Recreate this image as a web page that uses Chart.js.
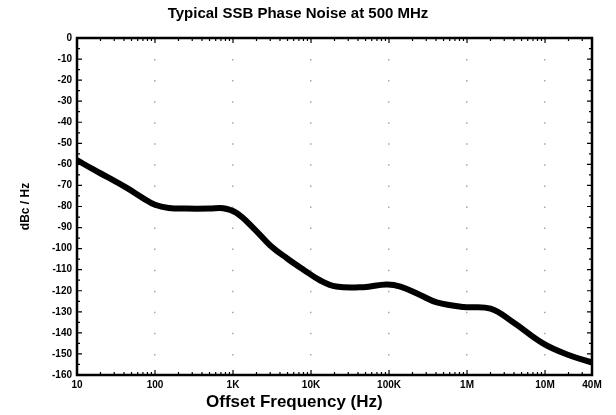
<!DOCTYPE html>
<html>
<head>
<meta charset="utf-8">
<title>Typical SSB Phase Noise at 500 MHz</title>
<script src="https://cdn.jsdelivr.net/npm/chart.js@4/dist/chart.umd.min.js"></script>
<style>
  html, body { margin: 0; padding: 0; background: #fff; }
  #wrap { width: 616px; height: 415px; }
</style>
</head>
<body>
<div id="wrap"><canvas id="chartCanvas" width="616" height="415"></canvas></div>
<script>
// offset frequency (Hz) and phase noise (dBc/Hz)
const freqs = [10, 16, 25, 44, 70, 100, 150, 250, 500, 750, 1100, 1800, 3000, 5000, 8000,
  13000, 21000, 47000, 93000, 140000, 250000, 410000, 900000, 2000000, 3900000,
  9400000, 20000000, 40000000];
const noise = [-58, -62.3, -66.2, -71.3, -76, -79.2, -80.7, -81, -81, -80.8, -83, -90, -98.5, -104.8, -110,
  -115, -118, -118.3, -117, -118, -122, -125.5, -127.7, -128.5, -135,
  -145, -150.5, -154];

const xTickValues = [10, 100, 1e3, 1e4, 1e5, 1e6, 1e7, 4e7];
const xTickLabels = ["10", "100", "1K", "10K", "100K", "1M", "10M", "40M"];
const yMin = -160, yMax = 0, yStep = 10;

const FONT = "'Liberation Sans', Arial, sans-serif";

// frame + little inward ticks like the printed graph
const frameTicks = {
  id: "frameTicks",
  afterDraw(chart) {
    const ctx = chart.ctx;
    const a = chart.chartArea;
    const xs = chart.scales.x, ys = chart.scales.y;
    ctx.save();
    ctx.strokeStyle = "#000";
    ctx.lineWidth = 2.5;
    ctx.strokeRect(a.left, a.top, a.right - a.left, a.bottom - a.top);
    ctx.lineWidth = 1.2;
    ctx.beginPath();
    for (let v = yMin; v <= yMax; v += yStep / 2) {
      const py = ys.getPixelForValue(v);
      const len = (v % yStep === 0) ? 5 : 3;
      ctx.moveTo(a.left, py); ctx.lineTo(a.left + len, py);
      ctx.moveTo(a.right, py); ctx.lineTo(a.right - len, py);
    }
    for (let d = 10; d <= 4e7; d *= 10) {
      for (let m = 1; m < 10; m++) {
        const f = d * m;
        if (f > 4e7) break;
        const px = xs.getPixelForValue(f);
        const len = m === 1 ? 5 : 3;
        ctx.moveTo(px, a.bottom); ctx.lineTo(px, a.bottom - len);
        ctx.moveTo(px, a.top); ctx.lineTo(px, a.top + len);
      }
    }
    ctx.stroke();
    ctx.restore();
  }
};

const ctx = document.getElementById("chartCanvas").getContext("2d");
new Chart(ctx, {
  type: "line",
  data: {
    datasets: [{
      label: "SSB phase noise",
      data: freqs.map((f, i) => ({ x: f, y: noise[i] })),
      borderColor: "#000",
      borderWidth: 6,
      pointRadius: 0,
      fill: false,
      tension: 0.4
    }]
  },
  options: {
    responsive: false,
    animation: false,
    layout: { padding: { left: 4, right: 24, top: 0, bottom: 2 } },
    plugins: {
      legend: { display: false },
      tooltip: { enabled: false },
      title: {
        display: true,
        text: "Typical SSB Phase Noise at 500 MHz",
        color: "#000",
        font: { family: FONT, size: 15, weight: "bold" },
        padding: { top: 5, bottom: 15 }
      }
    },
    scales: {
      x: {
        type: "logarithmic",
        min: 10,
        max: 4e7,
        afterBuildTicks: axis => { axis.ticks = xTickValues.map(v => ({ value: v })); },
        afterFit: axis => { axis.height = 38; },
        ticks: {
          autoSkip: false,
          maxRotation: 0,
          padding: 4,
          color: "#000",
          font: { family: FONT, size: 10, weight: "bold" },
          callback: (v, i) => xTickLabels[i]
        },
        grid: { drawTicks: false, color: "rgba(0,0,0,0.35)", lineWidth: 1.5 },
        border: { display: false, dash: [1.5, 19.56] },
        title: {
          display: true,
          // trailing spaces nudge the centred title left, as on the original sheet
          text: "Offset Frequency (Hz)" + "\u00a0".repeat(17),
          color: "#000",
          font: { family: FONT, size: 17, weight: "bold" },
          padding: { top: 3, bottom: 0 }
        }
      },
      y: {
        min: yMin,
        max: yMax,
        afterFit: axis => { axis.width = 73; },
        ticks: {
          stepSize: yStep,
          padding: 5,
          color: "#000",
          font: { family: FONT, size: 10, weight: "bold" }
        },
        grid: { display: false, drawTicks: false },
        border: { display: false },
        title: {
          display: true,
          text: "dBc / Hz",
          color: "#000",
          font: { family: FONT, size: 12, weight: "bold" },
          padding: { top: 14, bottom: 0 }
        }
      }
    }
  },
  plugins: [frameTicks]
});
</script>
</body>
</html>
